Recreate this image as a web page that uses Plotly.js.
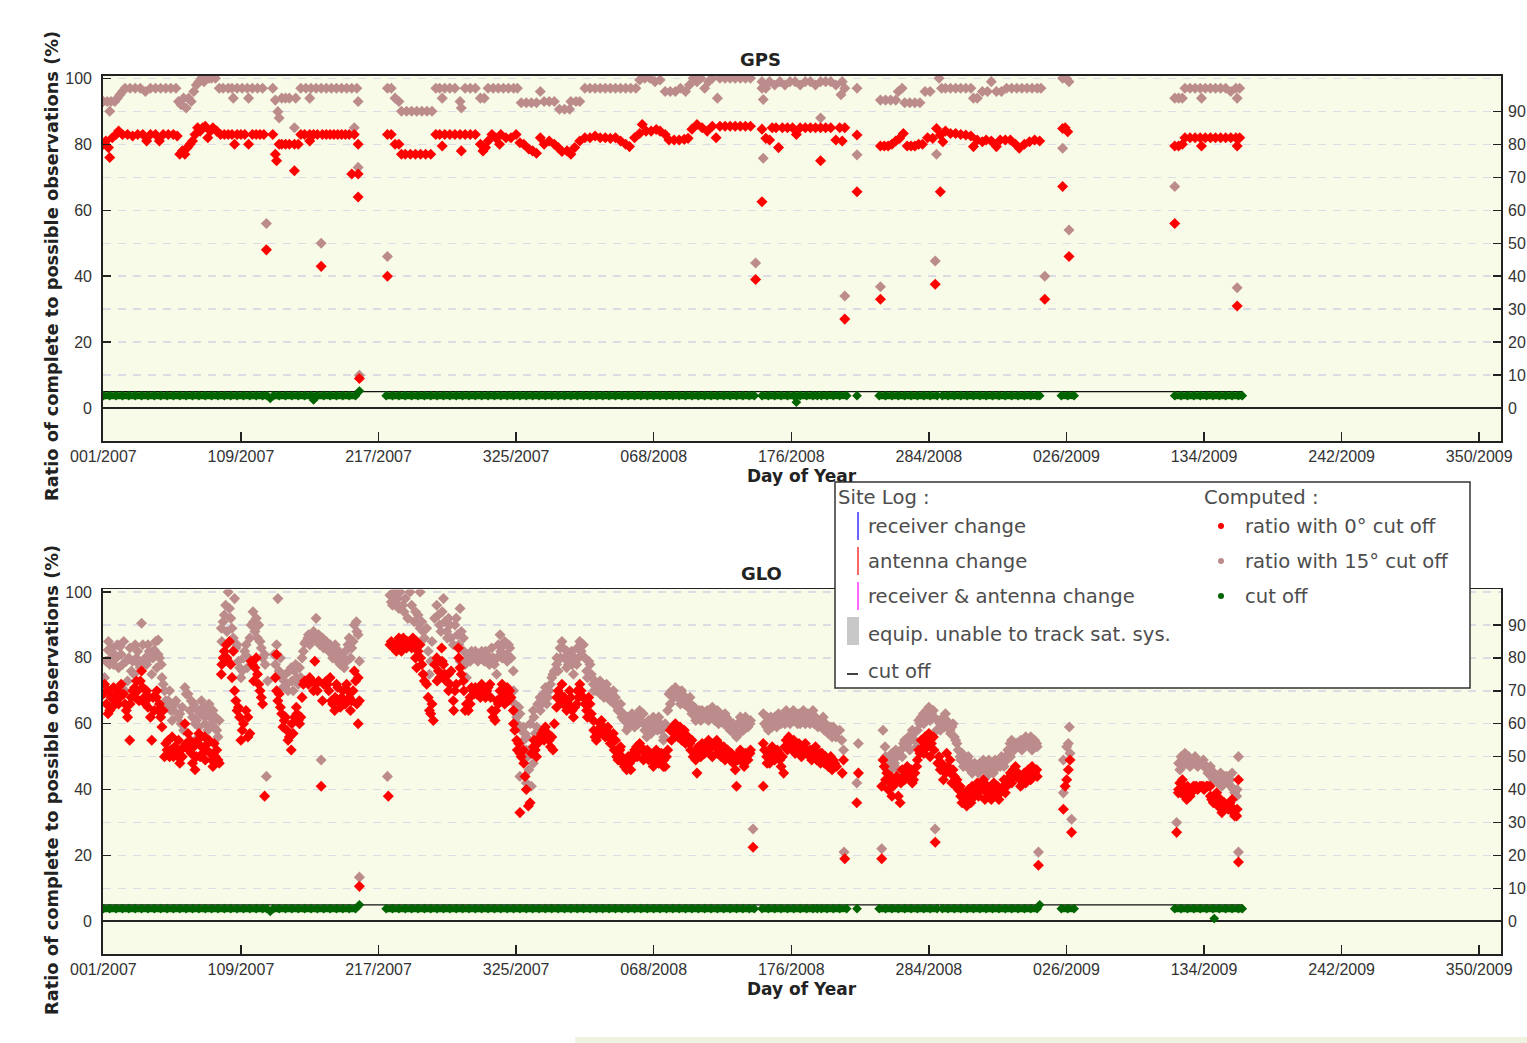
<!DOCTYPE html>
<html><head><meta charset="utf-8">
<script src="https://cdn.plot.ly/plotly-3.0.1.min.js"></script>
<style>html,body{margin:0;padding:0;background:#fff;}#chart{width:1527px;height:1043px;}</style>
</head><body><div id="chart"></div>
<script>
// ---------- DATA (x = day index, 0 = 001/2007) ----------
const tickDays = [0,108,216,324,432,540,648,756,864,972,1080];
const tickLabels = ['001/2007','109/2007','217/2007','325/2007','068/2008','176/2008','284/2008','026/2009','134/2009','242/2009','350/2009'];
const leftTicks = [0,20,40,60,80,100];
const rightTicks = [0,10,20,30,40,50,60,70,80,90];
const cutLineDays = [0, 894];
const cutLineVals = [5, 5];

// GPS, ratio with 0 deg cut off [day, %]
const gpsRed = [[0,80],[2,81],[4,79],[5,76],[7,82],[10,83],[12,84],[15,83],[19,83],[23,82.5],[27,83],[31,83],[34,81],[37,83],[41,83],[44,81],[47,83],[51,83],[55,83],[58,82.5],[60,77],[62,78],[64,77],[66,79],[68,80],[70,81],[72,83],[74,85],[76,84],[78,85],[80,85.5],[82,82],[84,84],[86,85],[89,84],[92,83],[95,83],[98,83],[101,83],[103,80],[105,83],[108,83],[111,83],[114,80],[117,83],[120,83],[123,83],[126,83],[128,48],[133,83],[135,77],[136,75],[138,80],[140,80],[143,80],[146,80],[150,72],[150,80],[153,80],[155,83],[158,83],[162,81],[162,83],[165,83],[168,83],[171,43],[172,83],[175,83],[178,83],[181,83],[184,83],[187,83],[190,83],[193,83],[195,71],[197,83],[200,71],[200,80],[200,64],[201,9],[223,40],[223,83],[226,83],[229,80],[232,80],[234,77],[237,77],[241,77],[245,77],[249,77],[253,77],[257,77],[261,83],[264,83],[266,79.5],[268,83],[272,83],[276,83],[280,83],[281,78],[284,83],[288,83],[292,83],[296,80],[298,78],[300,79],[302,81],[305,83],[308,82],[311,80],[312,83],[316,82],[320,82],[324,83],[327,80.5],[330,80],[334,78.6],[337,78],[340,77.3],[343,82],[346,80],[350,81],[354,80],[357,79],[360,77.8],[364,78],[367,77],[370,79],[374,81],[378,82],[382,82],[386,82.5],[390,82],[394,82],[398,81.8],[402,82],[406,81],[410,80],[413,79.3],[417,82],[421,83.3],[423,86],[426,84],[430,84],[434,84.5],[437,84],[441,83],[444,81.3],[448,81.3],[452,81.3],[456,81.5],[459,81.8],[462,84.6],[466,86],[470,85],[474,84],[478,85.5],[481,82],[484,85.5],[488,85.5],[492,85.5],[496,85.5],[500,85.5],[504,85.5],[508,85.5],[512,39],[517,84.6],[517,62.6],[520,81.8],[523,81.3],[525,85],[528,85],[530,79],[533,85],[537,85],[541,85],[544,83],[547,85],[551,85],[555,85],[559,85],[563,75],[563,85],[567,85],[571,85],[575,81.3],[578,85],[580,81],[582,85],[582,27],[591.6,82.8],[591.6,65.6],[610,33],[610,79.5],[613,79.5],[616,79.5],[619,80],[622,81],[625,81.8],[628,83.3],[631,79.5],[634,79.5],[637,79.5],[640,80],[643,80],[647,82],[651,81.8],[653,37.6],[654,84.8],[657,82.8],[657,65.6],[659,80.8],[661,84],[665,83.3],[669,83.3],[673,83],[677,82.8],[681,82.5],[683,79.3],[686,81.3],[690,80.8],[693,81.3],[697,81],[701,79.3],[704,81.3],[708,81.3],[712,81.3],[716,80],[719,78.8],[723,80],[727,80.8],[731,81.3],[735,81],[739,33],[753,84.8],[753,67.2],[755,85],[757,83.8],[758,46],[841,79.5],[841,56],[844,79.5],[847,80],[849,82],[853,82],[857,82],[861,82],[862,79.5],[865,82],[869,82],[873,82],[877,82],[881,82],[885,82],[889,82],[890,79.5],[890,31],[892,82]];

// GPS, ratio with 15 deg cut off [day, %]
const gpsRose = [[0,93],[3,93],[5,90],[6,93],[9,93],[11,94],[13,95],[15,96],[17,97],[21,97],[25,97],[29,97],[33,96],[37,97],[41,97],[45,97],[49,97],[53,97],[57,97],[59,93],[61,92],[63,94],[65,91],[67,94],[69,93],[71,96],[73,98],[75,99],[77,100],[79,99],[81,100],[83,100],[85,100],[88,100],[91,97],[94,97],[98,97],[101,97],[102,94],[105,97],[109,97],[113,97],[114,94],[117,97],[121,97],[125,97],[128,56],[133,97],[135,93.4],[137,89.9],[138,88],[140,94],[143,94],[146,94],[150,85],[151,94],[155,97],[159,97],[162,94],[163,97],[167,97],[171,50],[171,97],[175,97],[179,97],[183,97],[187,97],[191,97],[195,97],[197,85],[199,97],[200,93],[200,73],[201,10],[223,46],[223,97],[226,97],[229,94],[232,93],[234,90],[238,90],[242,90],[246,90],[250,90],[254,90],[258,90],[261,97],[264,97],[266,94],[268,97],[272,97],[276,97],[280,93],[281,91],[284,97],[288,97],[292,97],[296,94],[299,94],[302,97],[306,97],[310,97],[314,97],[318,97],[322,97],[325,97],[328,92.6],[332,92.6],[336,92.6],[340,92.6],[343,96],[346,93],[350,93],[354,93],[358,90.6],[362,90.6],[366,90.6],[367,93],[371,93],[374,93],[378,97],[382,97],[386,97],[390,97],[394,97],[398,97],[402,97],[406,97],[410,97],[414,97],[418,97],[421,99.5],[425,100],[429,100],[433,99],[437,99.5],[441,96],[445,96],[449,96],[453,97],[457,96],[460,98],[463,100],[466,99],[469,100],[472,97],[475,99],[478,100],[482,94],[484,100],[488,100],[492,100],[496,100],[500,100],[504,100],[508,100],[512,44],[517,99],[517,97],[518,93.6],[518,75.8],[520,97],[523,99],[527,98],[531,99],[535,98],[539,99],[543,99],[547,98],[551,99],[555,99],[559,98],[563,88],[563,99],[567,99],[571,99],[575,98],[579,95],[580,99],[582,97],[582,34],[591.6,97],[591.6,76.8],[610,36.8],[610,93.4],[614,93.4],[618,93.4],[622,93.4],[624,96],[627,97],[629,92.6],[633,92.6],[637,92.6],[641,92.6],[645,96],[649,96],[653,44.6],[654,77],[656,100],[658,97],[661,97],[665,97],[669,97],[673,97],[677,97],[681,97],[683,94],[686,94],[690,96],[694,96],[697,99],[701,96],[705,96],[709,97],[713,97],[717,97],[721,97],[725,97],[729,97],[733,97],[736,97],[739,40],[753,78.8],[753,100],[756,100],[758,99],[758,54],[841,67.2],[841,94],[844,94],[847,94],[849,97],[853,97],[857,97],[861,97],[862,94],[865,97],[869,97],[873,97],[877,97],[881,97],[885,96],[889,97],[890,94],[890,36.5],[892,97]];

// GPS computed cut off [day, %]  (null = no data, breaks the band)
const gpsCut = [[0,3.8],[5,3.8],[10,3.8],[15,3.8],[20,3.8],[25,3.8],[30,3.8],[35,3.8],[40,3.8],[45,3.8],[50,3.8],[55,3.8],[60,3.8],[65,3.8],[70,3.8],[75,3.8],[80,3.8],[85,3.8],[90,3.8],[95,3.8],[100,3.8],[105,3.8],[110,3.8],[115,3.8],[120,3.8],[125,3.8],[128.5,3.8],[130,null],[131,3.0],[132,null],[133.5,3.8],[138,3.8],[143,3.8],[148,3.8],[153,3.8],[158,3.8],[163,3.8],[165,2.5],[168,3.8],[173,3.8],[178,3.8],[183,3.8],[188,3.8],[193,3.8],[198,3.8],[201,5.2],[210,null],[222,3.8],[227,3.8],[232,3.8],[237,3.8],[242,3.8],[247,3.8],[252,3.8],[257,3.8],[262,3.8],[267,3.8],[272,3.8],[277,3.8],[282,3.8],[287,3.8],[292,3.8],[297,3.8],[302,3.8],[307,3.8],[312,3.8],[317,3.8],[322,3.8],[327,3.8],[332,3.8],[337,3.8],[342,3.8],[347,3.8],[352,3.8],[357,3.8],[362,3.8],[367,3.8],[372,3.8],[377,3.8],[382,3.8],[387,3.8],[392,3.8],[397,3.8],[402,3.8],[407,3.8],[412,3.8],[417,3.8],[422,3.8],[427,3.8],[432,3.8],[437,3.8],[442,3.8],[447,3.8],[452,3.8],[457,3.8],[462,3.8],[467,3.8],[472,3.8],[477,3.8],[482,3.8],[487,3.8],[492,3.8],[497,3.8],[502,3.8],[507,3.8],[511,3.8],[514,null],[517,3.8],[522,3.8],[527,3.8],[532,3.8],[537,3.8],[542,3.8],[544,1.8],[547,3.8],[552,3.8],[557,3.8],[560.5,3.8],[562,null],[563.5,3.8],[568,3.8],[573,3.8],[578,3.8],[583.5,3.8],[587,null],[591.6,3.8],[600,null],[609,3.8],[614,3.8],[619,3.8],[624,3.8],[629,3.8],[634,3.8],[639,3.8],[644,3.8],[649,3.8],[654.5,3.8],[656.5,null],[658.5,3.8],[663,3.8],[668,3.8],[673,3.8],[678,3.8],[683,3.8],[688,3.8],[693,3.8],[698,3.8],[703,3.8],[708,3.8],[713,3.8],[718,3.8],[723,3.8],[728,3.8],[733,3.8],[735,3.8],[745,null],[752,3.8],[757,3.8],[762,3.8],[800,null],[841,3.8],[846,3.8],[851,3.8],[856,3.8],[861,3.8],[866,3.8],[871,3.8],[876,3.8],[881,3.8],[886,3.8],[891,3.8],[894,3.8]];

// GLO, ratio with 0 deg cut off [day, %]
const gloRed = [[0,69],[2.4,66],[3.7,63],[5,64],[6,68],[9,67],[11.5,70],[13,68],[14,72],[17,66],[19,62],[20.7,55],[22,68],[24.6,71],[26,73],[27,70],[30,76],[32,68],[34,70],[35,65],[38,55],[39,68],[41.6,68],[43,64],[44,66],[47,64],[48,50],[50,52],[51,55],[53,52],[55,50],[56,53],[58.6,50],[60,48],[61,52],[63,53],[64,60],[66.5,57],[68,55],[69,51],[72,46],[74,55],[76,50],[77,53],[79.5,56],[81,52],[82,54],[85,49],[87,54],[89,52],[90,49],[91,48],[92.6,75],[94,80],[96.5,84],[98,79],[100,78],[102,82],[103,70],[104,67],[106,65],[107,62],[108,55],[110,60],[113.5,62],[113.5,56],[116,79],[119,77],[121,75],[124,68],[126.6,38],[136,70],[136,81],[137,67],[140,63],[142,61],[144,58],[145,55],[147.5,52],[150,62],[151.5,65],[153,61],[155,62],[158,73],[160.6,73],[163,73],[166,79],[167,72],[171,41],[172,67],[174,72],[176,72],[179,67],[181.6,64],[184,71],[187,68],[189,66],[192,70],[195,67],[197,76],[200,74],[201,67],[200,60],[201,10.6],[223.7,38],[225,84],[227.7,83],[230,82],[233,84],[235.5,86],[238,83],[240.7,84],[243,86],[246,85],[246,77],[248.6,84],[251,75],[253.8,72],[256,64],[259,61],[261.7,80],[263,76],[264,74],[265.6,83],[268,75],[270.8,75],[272,72],[274.7,67],[277,72],[278.7,83],[280,77],[282.6,73],[284,64],[286.5,64],[287.8,68],[290.5,70],[293,69],[295.7,70],[298,69],[301,70],[303.5,72],[306,62],[307.5,61],[310,66],[311.4,70],[314,70],[316.6,68],[319,70],[321.8,64],[324.5,55],[327,51],[327,33],[329.7,52],[332,40],[333.6,35],[337.5,53],[340,50],[342.8,56],[345.4,58],[348,56],[349,57],[353,52],[355.8,65],[358.5,69],[361,66],[363.7,64],[366,70],[369,62],[371.6,66],[374,72],[376.8,68],[379.4,64],[382,66],[384.6,61],[387,55],[389.9,60],[392.5,59],[395,58],[397.7,56],[400.3,57],[403,50],[405.5,52],[408,48],[410.8,46],[413,48],[416,51],[418.6,53],[421,54],[423.8,52],[426.5,50],[429,51],[431.7,47],[434,52],[437,50],[439.6,47],[442,50],[445,58],[447,59],[450,58],[452.7,59],[455,57],[458,55],[460.5,54],[463,50],[466,45],[468,52],[471,53],[473.6,54],[476,51],[479,54],[481.5,55],[484,52],[486.7,52],[489,51],[492,49],[494.5,48],[497,41],[500,52],[502.4,48],[505,50],[507.6,51],[510,22.5],[518,54],[518,41],[520.7,50],[523,48],[526,51],[528.6,50],[531,49],[534,45],[536,55],[539,54],[541.6,52],[544,54],[547,51],[549.5,53],[552,52],[554.7,50],[557,52],[560,49],[562.6,51],[565,50],[568,49],[570.4,48],[573,49],[575.6,47],[580,45],[581,49],[582,19],[591.4,36],[592.7,45],[611,41],[611,19],[612,49],[615,45],[617.5,42],[620,41],[622.8,44],[625.4,36],[628,44],[630.6,45],[633,44],[636,43],[638.5,47],[641,51],[643.7,53],[646,54],[649,55],[649,50],[651.5,56],[653,24],[656,50],[659.4,43],[662,51],[664.6,49],[667,46],[670,43],[672.5,41],[675,39],[677.7,35],[680.3,37],[683,39],[685.6,40],[688,41],[690.8,43],[693.4,39],[696,38],[698.6,40],[701,38],[704,39],[706.5,41],[709,41],[711.7,44],[714.3,46],[717,44],[719.5,43],[722,42],[725,44],[727.4,45],[730,46],[732.6,46],[734,17],[753.6,34],[755,41],[756.2,43],[757.5,46],[758.8,49],[760,27],[842.5,27],[843.8,39],[845,42],[848,41],[850.4,37],[853,38],[855.6,41],[858,41],[860.8,41],[863.4,41],[866,41],[868.7,41],[871.3,36],[873.9,39],[876.5,36],[879,34],[881.8,35],[884.4,36],[887,33],[889.6,32],[891,43],[891,18]];
// GLO 0 deg, further daily readings inside the dense clouds [day, %]
const gloRedMore = [[1,72],[4,70],[7,65],[8,71],[10,69],[12,66],[16,69],[18,64],[21,66],[23,70],[25,68],[28,67],[29,73],[31,71],[33,66],[36,68],[37,62],[40,64],[42,70],[45,62],[46,59],[49,54],[52,50],[54,56],[57,51],[59,55],[62,50],[65,54],[67,52],[70,48],[71,53],[73,50],[75,57],[78,51],[80,49],[83,55],[84,51],[86,47],[88,50],[93,78],[95,82],[97,80],[99,85],[101,74],[105,64],[109,58],[112,64],[115,57],[117,78],[118,73],[120,80],[122,72],[123,70],[125,66],[135,74],[138,69],[139,65],[141,59],[143,62],[146,56],[148,60],[149,57],[152,63],[154,60],[156,68],[157,72],[159,73],[161,72],[162,74],[164,73],[165,70],[168,70],[169,73],[173,72],[175,73],[177,70],[178,74],[180,66],[182,68],[183,72],[185,67],[186,65],[188,70],[190,66],[191,72],[193,68],[194,64],[196,70],[198,73],[199,66],[226,85],[229,84],[231,83],[232,86],[234,82],[237,85],[239,85],[242,83],[244,84],[245,80],[247,82],[249,80],[250,78],[252,73],[255,68],[257,63],[258,66],[260,78],[262,73],[266,79],[267,78],[269,73],[271,70],[273,76],[275,64],[276,70],[279,80],[281,75],[283,70],[285,66],[288,66],[289,71],[291,69],[292,71],[294,70],[296,68],[297,72],[299,70],[300,68],[302,71],[304,68],[305,64],[308,64],[309,67],[312,68],[313,72],[315,66],[317,71],[318,67],[320,68],[322,60],[323,58],[325,52],[326,54],[328,50],[330,48],[331,44],[335,36],[336,51],[338,55],[339,52],[341,54],[344,57],[346,55],[347,59],[350,55],[351,53],[352,56],[354,60],[356,68],[357,70],[359,67],[360,72],[362,68],[365,66],[367,68],[368,64],[370,65],[372,70],[373,68],[375,70],[378,66],[380,62],[381,68],[383,63],[385,58],[386,56],[388,58],[390,57],[391,61],[393,57],[394,56],[396,59],[398,54],[399,55],[401,52],[402,55],[404,49],[406,53],[407,50],[409,47],[411,49],[412,50],[414,46],[415,49],[417,52],[419,50],[420,52],[422,53],[424,49],[425,51],[427,52],[428,49],[430,50],[432,51],[433,48],[435,50],[436,48],[438,51],[440,49],[441,47],[443,52],[446,55],[448,57],[449,60],[451,56],[453,57],[454,55],[456,58],[457,54],[459,56],[461,52],[462,55],[464,51],[465,49],[467,53],[469,50],[470,54],[472,51],[474,52],[475,55],[477,53],[478,50],[480,53],[482,51],[483,54],[485,50],[487,53],[488,49],[490,52],[491,50],[493,51],[495,50],[496,46],[498,49],[499,51],[501,50],[503,47],[504,51],[506,49],[508,52],[519,52],[521,48],[522,51],[524,50],[525,53],[527,49],[529,52],[530,51],[532,47],[533,50],[535,53],[537,52],[538,56],[540,53],[542,55],[543,51],[545,52],[546,54],[548,50],[550,51],[551,54],[553,51],[555,52],[556,49],[558,51],[559,53],[561,50],[563,48],[564,51],[566,48],[567,50],[569,47],[571,50],[572,46],[574,48],[613,47],[614,43],[616,40],[618,44],[619,38],[621,42],[624,38],[626,42],[627,46],[629,43],[631,47],[632,44],[634,46],[635,42],[637,45],[639,49],[640,52],[642,55],[644,51],[645,56],[647,53],[648,57],[650,54],[652,52],[655,48],[657,46],[658,48],[660,47],[661,45],[663,47],[665,45],[666,42],[668,44],[669,41],[671,40],[673,38],[674,36],[676,37],[678,38],[679,40],[681,36],[682,41],[684,38],[686,42],[687,38],[689,40],[691,41],[692,37],[694,41],[695,40],[697,37],[699,42],[700,40],[702,41],[703,37],[705,40],[707,43],[708,39],[710,42],[712,45],[713,42],[715,44],[716,47],[718,45],[720,41],[721,44],[723,45],[724,42],[726,46],[728,43],[729,47],[731,45],[733,44],[844,40],[846,39],[847,43],[849,38],[851,41],[852,40],[854,39],[857,41],[859,40],[862,41],[864,40],[867,41],[869,38],[870,37],[872,38],[875,35],[877,37],[878,33],[880,36],[883,34],[885,35],[886,37],[888,32],[890,34]];

// GLO, ratio with 15 deg cut off [day, %]
const gloRose = [[1,74],[3.7,82.4],[5,78],[6,80],[9,81],[11,84],[13,83.4],[15,78],[17,70],[18,79],[19,73],[20,80],[22,76],[25,84],[27,82],[28,78],[30,90.5],[32,79],[33,80],[35,84],[37,80],[38,75],[40,82.4],[42,77],[43,81],[43,85.4],[45.5,78],[48,70],[51,67],[53,64],[56,66],[58.6,62],[61,60],[64,71],[66.5,69],[69,67],[72,60],[72,55],[74,64],[77,67],[79.5,62],[83,66],[86,64],[87,59],[90,56],[91,61],[92.6,89],[95,93],[98,100],[100,92],[102,86],[103,98],[104,83],[106,79],[108,74],[111,82],[113,77],[116,90],[117.5,94],[120,92],[122,90],[124,83],[126.6,81],[128,44],[129,73],[134,81],[137,98],[138,76],[142,73],[145,70],[147.5,77],[150,76],[153,72],[155,74],[158,84.4],[160.6,86],[163,87],[166,86],[167,92],[170,84],[171,49],[174,85],[176,84],[179,83],[181.6,82],[184,79],[187,81],[189,77],[192,84],[195,83],[197,90],[198.6,91],[200,87],[201,79],[201,13.4],[223,44],[225,99],[227,96],[230,99],[235,96],[240.7,100],[246,91],[248.6,100],[248.6,89],[253.8,89],[256,75],[261.7,96],[264,90],[267,98],[269.5,88],[272,90],[274.7,84],[277,92],[280,95],[280,79],[282.6,86],[285,74],[287.8,81],[290.5,81],[293,80],[295.7,81],[298,80],[301,81],[304.8,83],[308.7,75],[311.4,87],[314,84],[316.6,81],[319,83],[321.8,76],[324.5,62],[327,63],[327,52],[327,44],[329.7,59],[332,56],[332,52],[332,42],[336,41],[337.5,64],[337.5,48],[340.2,59],[342.8,68],[345.4,69],[348,66],[350,70],[353,75],[355.8,78],[358.5,83],[361,83],[363.7,77],[367.6,82],[369,75],[371.6,78],[374,85],[376.8,84],[379.4,76],[382,78],[384.6,72],[387,70],[389.9,73],[392.5,70],[395,72],[397.7,68],[400.3,70],[403,66],[405.5,64],[408,63],[410.8,58],[413,61],[416,60],[418.6,61],[421,64],[423.8,63],[426.5,56],[429,58],[431.7,62],[434,61],[437,60],[439.6,55],[442,59],[444,69],[447,69],[450,70],[452.7,69],[455,68],[458,67],[460.5,68],[463,64],[466,62],[468,64],[471,63],[473.6,62],[476,64],[479,63],[481.5,62],[484,63],[486.7,61],[489,62],[492,58],[494.5,60],[497,56],[500,62],[502.4,58],[505,61],[507.6,60],[510,28],[518,63],[520.7,59],[523,60],[526,61],[528.6,59],[531,62],[534,61],[536,64],[539,60],[541.6,64],[544,62],[547,60],[549.5,64],[552,62],[554.7,60],[557,64],[560,61],[562.6,60],[565,62],[568,59],[570.4,58],[573,59],[575,56],[578,58],[579.6,55],[581,52],[581.4,21],[591.4,42],[592.6,54],[611,22],[612,58],[613.6,53],[615,46],[617.5,49],[618.8,46],[620,49],[622,52],[625.4,43],[628,54],[630.6,55],[633,52],[636,57],[638.5,53],[641,60],[643.7,63],[646,64],[649,61],[651.5,64],[652.9,28],[654,58],[656.8,60],[659.4,62],[662,61],[664.6,58],[667,60],[670,54],[672.5,50],[675,47],[677.7,49],[680.3,46],[683,47],[685.6,46],[688,48],[690.8,49],[693.4,44],[696,46],[698.6,45],[701,48],[704,47],[706.5,48],[709,49],[711.7,54],[714.3,53],[717,54],[719.5,54],[722,53],[725,55],[727.4,53],[730,55],[732.6,54],[734,21],[753.6,49],[753.6,39],[756.2,53],[757.5,54],[758.3,59],[758.8,51],[760,31],[842.5,30],[845,46],[848,50],[850.4,48],[853,47],[855.6,49],[858,49],[860.8,48],[863.4,49],[866,47],[868.7,46],[871.3,43],[873.9,44],[876.5,43],[879,42],[881.8,44],[884.4,43],[887,40],[889.6,38],[891,50],[891,21]];
// GLO 15 deg, further daily readings inside the dense clouds [day, %]
const gloRoseMore = [[2,79],[4,85],[7,83],[8,78],[10,80],[12,77],[14,81],[16,85],[21,83],[23,79],[24,75],[26,80],[29,77],[31,84],[34,78],[36,82],[39,80],[41,85],[44,80],[46,74],[47,72],[49,67],[50,65],[52,70],[54,61],[55,64],[57,67],[60,63],[62,65],[63,58],[65,69],[68,64],[70,62],[71,66],[73,61],[75,59],[76,63],[78,65],[80,60],[81,64],[82,58],[84,62],[85,60],[88,62],[89,58],[93,85],[94,91],[96,96],[97,88],[99,95],[101,89],[105,84],[107,77],[109,76],[110,80],[112,84],[114,80],[115,86],[118,91],[119,88],[121,86],[123,85],[125,80],[127,78],[135,78],[136,84],[139,80],[140,74],[141,71],[143,75],[144,72],[146,76],[148,73],[149,70],[151,78],[152,74],[154,77],[156,80],[157,82],[159,85],[161,87],[162,84],[164,86],[165,88],[168,85],[169,87],[172,86],[173,83],[175,85],[177,82],[178,84],[180,80],[182,84],[183,80],[185,82],[186,78],[188,80],[190,82],[191,79],[193,86],[194,80],[196,85],[199,88],[226,97],[228,100],[229,97],[231,98],[232,95],[233,100],[236,94],[237,98],[239,92],[242,96],[244,91],[245,94],[247,93],[250,91],[251,88],[252,86],[255,82],[257,79],[258,85],[260,92],[263,93],[265,88],[266,94],[268,91],[270,86],[271,92],[273,86],[276,90],[278,87],[279,84],[281,88],[283,82],[284,78],[286,80],[288,79],[289,82],[291,80],[292,82],[294,79],[296,80],[297,82],[299,79],[300,82],[302,80],[303,78],[306,80],[307,78],[309,80],[310,84],[312,82],[313,80],[315,85],[317,79],[318,84],[320,80],[322,70],[323,66],[325,60],[326,65],[328,58],[330,55],[331,57],[333,50],[334,46],[335,60],[338,62],[339,57],[341,66],[343,64],[344,66],[346,68],[347,71],[349,68],[351,72],[352,74],[354,76],[356,80],[357,76],[359,80],[360,85],[362,80],[364,82],[365,78],[366,80],[368,78],[370,80],[372,83],[373,80],[375,82],[378,80],[380,74],[381,79],[383,75],[385,70],[386,73],[388,71],[390,69],[391,72],[393,68],[394,71],[396,70],[398,67],[399,69],[401,66],[402,68],[404,64],[406,66],[407,62],[409,61],[411,62],[412,59],[414,62],[415,63],[417,59],[419,62],[420,60],[422,61],[424,60],[425,58],[427,59],[428,61],[430,57],[432,59],[433,60],[435,58],[436,62],[438,58],[440,56],[441,60],[443,64],[445,66],[446,70],[448,68],[449,71],[451,68],[453,66],[454,70],[456,66],[457,68],[459,65],[461,66],[462,63],[464,65],[465,61],[467,63],[469,61],[470,64],[472,62],[474,64],[475,61],[477,62],[478,65],[480,61],[482,64],[483,60],[485,62],[487,60],[488,63],[490,59],[491,61],[493,60],[495,57],[496,59],[498,60],[499,57],[501,60],[503,59],[504,62],[506,59],[508,61],[519,60],[521,62],[522,58],[524,62],[525,59],[527,62],[529,60],[530,63],[532,60],[533,62],[535,60],[537,62],[538,61],[540,63],[542,61],[543,63],[545,60],[546,63],[548,61],[550,62],[551,60],[553,63],[555,61],[556,63],[558,60],[559,62],[561,59],[563,61],[564,60],[566,58],[567,60],[569,57],[571,59],[572,56],[574,57],[614,50],[616,47],[619,51],[621,48],[623,50],[624,46],[626,52],[627,50],[629,55],[631,53],[632,56],[634,55],[635,58],[637,55],[639,58],[640,61],[642,62],[644,60],[645,63],[647,62],[648,65],[650,63],[652,62],[655,61],[657,58],[658,61],[660,59],[661,63],[663,59],[665,57],[666,59],[668,56],[669,55],[671,52],[673,49],[674,51],[676,48],[678,47],[679,50],[681,48],[682,45],[684,48],[686,47],[687,45],[689,47],[691,48],[692,46],[694,47],[695,49],[697,47],[699,46],[700,49],[702,47],[703,49],[705,50],[707,47],[708,50],[710,52],[712,50],[713,55],[715,52],[716,54],[718,53],[720,55],[721,52],[723,54],[724,56],[726,54],[728,56],[729,52],[731,55],[733,53],[844,48],[846,50],[847,47],[849,51],[851,49],[852,50],[854,48],[857,50],[859,47],[862,48],[864,47],[867,45],[869,47],[870,44],[872,45],[875,42],[877,45],[878,41],[880,44],[883,42],[885,41],[886,45],[888,39],[890,40]];

// GLO computed cut off [day, %]  (null = no data, breaks the band)
const gloCut = [[0,3.8],[5,3.8],[10,3.8],[15,3.8],[20,3.8],[25,3.8],[30,3.8],[35,3.8],[40,3.8],[45,3.8],[50,3.8],[55,3.8],[60,3.8],[65,3.8],[70,3.8],[75,3.8],[80,3.8],[85,3.8],[90,3.8],[95,3.8],[100,3.8],[105,3.8],[110,3.8],[115,3.8],[120,3.8],[125,3.8],[128.5,3.8],[130,null],[131,3.0],[132,null],[133.5,3.8],[138,3.8],[143,3.8],[148,3.8],[153,3.8],[158,3.8],[163,3.8],[168,3.8],[173,3.8],[178,3.8],[183,3.8],[188,3.8],[193,3.8],[198,3.8],[201,5.0],[210,null],[222,3.8],[227,3.8],[232,3.8],[237,3.8],[242,3.8],[247,3.8],[252,3.8],[257,3.8],[262,3.8],[267,3.8],[272,3.8],[277,3.8],[282,3.8],[287,3.8],[292,3.8],[297,3.8],[302,3.8],[307,3.8],[312,3.8],[317,3.8],[322,3.8],[327,3.8],[332,3.8],[337,3.8],[342,3.8],[347,3.8],[352,3.8],[357,3.8],[362,3.8],[367,3.8],[372,3.8],[377,3.8],[382,3.8],[387,3.8],[392,3.8],[397,3.8],[402,3.8],[407,3.8],[412,3.8],[417,3.8],[422,3.8],[427,3.8],[432,3.8],[437,3.8],[442,3.8],[447,3.8],[452,3.8],[457,3.8],[462,3.8],[467,3.8],[472,3.8],[477,3.8],[482,3.8],[487,3.8],[492,3.8],[497,3.8],[502,3.8],[507,3.8],[511,3.8],[514,null],[517,3.8],[522,3.8],[527,3.8],[532,3.8],[537,3.8],[542,3.8],[547,3.8],[552,3.8],[557,3.8],[560.5,3.8],[562,null],[563.5,3.8],[568,3.8],[573,3.8],[578,3.8],[583.5,3.8],[587,null],[591.6,3.8],[600,null],[609,3.8],[614,3.8],[619,3.8],[624,3.8],[629,3.8],[634,3.8],[639,3.8],[644,3.8],[649,3.8],[654.5,3.8],[656.5,null],[658.5,3.8],[663,3.8],[668,3.8],[673,3.8],[678,3.8],[683,3.8],[688,3.8],[693,3.8],[698,3.8],[703,3.8],[708,3.8],[713,3.8],[718,3.8],[723,3.8],[728,3.8],[733,3.8],[735,5.0],[745,null],[752,3.8],[757,3.8],[762,3.8],[800,null],[841,3.8],[846,3.8],[851,3.8],[856,3.8],[861,3.8],[866,3.8],[871,3.8],[872,0.8],[876,3.8],[881,3.8],[886,3.8],[891,3.8],[894,3.8]];

// ---------- STYLE / LAYOUT ----------
const W = 1527, H = 1043;
const PX = v => v / W, PY = v => 1 - v / H;
const RED = '#ff0000', ROSE = '#bc8c8c', GREEN = '#006400';
const TICKFONT = {family:'Liberation Sans, Arial, sans-serif', size:16, color:'#333'};
const TITLEFONT = {family:'DejaVu Sans, Verdana, sans-serif', size:17, color:'#222'};
const LEGFONT = {family:'DejaVu Sans, Verdana, sans-serif', size:19.6, color:'#4d4d4d'};
const MSIZE = 8.5;

function pts(pairs, color, xa, ya, size) {
  const p = pairs.filter(q => q[1] !== null);
  return {type:'scatter', mode:'markers', x:p.map(q=>q[0]), y:p.map(q=>q[1]), xaxis:xa, yaxis:ya,
    marker:{symbol:'diamond', size:size || MSIZE, color:color, line:{width:0}}, hoverinfo:'skip', showlegend:false};
}
// solid band joining the regular cut-off values (off-band values shown only as markers)
function band(pairs, color, xa, ya) {
  const p = pairs.filter(q => q[1] === null || Math.abs(q[1] - 3.8) < 0.3);
  return {type:'scatter', mode:'lines', x:p.map(q=>q[0]), y:p.map(q=>q[1]), xaxis:xa, yaxis:ya, connectgaps:false,
    line:{color:color, width:7}, hoverinfo:'skip', showlegend:false};
}
function cutLine(xa, ya) {
  return {type:'scatter', mode:'lines', x:cutLineDays, y:cutLineVals, xaxis:xa, yaxis:ya,
    line:{color:'#111', width:1.3}, hoverinfo:'skip', showlegend:false};
}
const dummy = (xa, ya) => ({type:'scatter', mode:'markers', x:[], y:[], xaxis:xa, yaxis:ya, hoverinfo:'skip', showlegend:false});

const data = [
  cutLine('x','y'), band(gpsCut, GREEN, 'x','y'), pts(gpsCut, GREEN, 'x','y', 7.5), pts(gpsRose, ROSE, 'x','y'), pts(gpsRed, RED, 'x','y'),
  cutLine('x2','y2'), band(gloCut, GREEN, 'x2','y2'), pts(gloCut, GREEN, 'x2','y2', 7.5),
  pts(gloRose.concat(gloRoseMore), ROSE, 'x2','y2'), pts(gloRed.concat(gloRedMore), RED, 'x2','y2'),
  dummy('x','y3'), dummy('x2','y4')
];

const xRange = [-0.5, 1097.1];
const yRange = [-9.95, 100.8];
function xAxis(anchor) {
  return {domain:[102.7/W, 1501/W], range:xRange, anchor:anchor, tickmode:'array', tickvals:tickDays, ticktext:tickLabels,
    ticks:'inside', ticklen:9, tickwidth:1.5, tickcolor:'#222', showline:true, linecolor:'#222', linewidth:1.5, mirror:true,
    showgrid:false, zeroline:false, tickfont:TICKFONT, automargin:false, fixedrange:true};
}
function yLeft(dom, anchor) {
  return {domain:dom, range:yRange, anchor:anchor, tickmode:'array', tickvals:leftTicks, ticks:'inside', ticklen:8, tickwidth:1.5,
    tickcolor:'#222', showline:true, linecolor:'#222', linewidth:1.5, mirror:true, showgrid:true, gridcolor:'#dcdde4',
    gridwidth:1.5, griddash:'8px,7px', zeroline:true, zerolinecolor:'#222', zerolinewidth:1.5, tickfont:TICKFONT,
    ticklabelstandoff:6, automargin:false, fixedrange:true};
}
function yRight(over, anchor) {
  return {overlaying:over, side:'right', anchor:anchor, range:yRange, tickmode:'array', tickvals:rightTicks, ticks:'inside',
    ticklen:8, tickwidth:1.5, tickcolor:'#222', showline:false, showgrid:true, gridcolor:'#dcdde4', gridwidth:1.5,
    griddash:'8px,7px', zeroline:false, tickfont:TICKFONT, ticklabelstandoff:6, automargin:false, fixedrange:true};
}

const topDom = [1 - 441/H, 1 - 75.7/H];
const botDom = [1 - 954/H, 1 - 589.4/H];

function ann(text, x, y, font, opts) {
  return Object.assign({text:text, x:PX(x), y:PY(y), xref:'paper', yref:'paper', showarrow:false,
    xanchor:'center', yanchor:'middle', font:font}, opts || {});
}
const YTITLE = Object.assign({}, TITLEFONT, {size:17.8});
const annotations = [
  ann('<b>GPS</b>', 760, 60, Object.assign({}, TITLEFONT, {size:18})),
  ann('<b>GLO</b>', 761, 573, Object.assign({}, TITLEFONT, {size:18})),
  ann('<b>Day of Year</b>', 802, 476, TITLEFONT),
  ann('<b>Day of Year</b>', 802, 989, TITLEFONT),
  ann('<b>Ratio of complete to possible observations (%)</b>', 51, 266, YTITLE, {textangle:-90}),
  ann('<b>Ratio of complete to possible observations (%)</b>', 51, 780, YTITLE, {textangle:-90}),
  ann('Site Log :', 836, 497, LEGFONT, {xanchor:'left'}),
  ann('receiver change', 866, 526, LEGFONT, {xanchor:'left'}),
  ann('antenna change', 866, 561, LEGFONT, {xanchor:'left'}),
  ann('receiver &amp; antenna change', 866, 596, LEGFONT, {xanchor:'left'}),
  ann('equip. unable to track sat. sys.', 866, 634, LEGFONT, {xanchor:'left'}),
  ann('cut off', 866, 671, LEGFONT, {xanchor:'left'}),
  ann('Computed :', 1202, 497, LEGFONT, {xanchor:'left'}),
  ann('ratio with 0° cut off', 1243, 526, LEGFONT, {xanchor:'left'}),
  ann('ratio with 15° cut off', 1243, 561, LEGFONT, {xanchor:'left'}),
  ann('cut off', 1243, 596, LEGFONT, {xanchor:'left'})
];

function rect(x0, y0, x1, y1, fill, line) {
  return {type:'rect', xref:'paper', yref:'paper', x0:PX(x0), x1:PX(x1), y0:PY(y0), y1:PY(y1),
    fillcolor:fill, line:line || {width:0}, layer:'above'};
}
function vline(x, y0, y1, color) {
  return {type:'line', xref:'paper', yref:'paper', x0:PX(x), x1:PX(x), y0:PY(y0), y1:PY(y1), line:{color:color, width:1.5}, layer:'above'};
}
function dot(cx, cy, color) {
  return {type:'circle', xref:'paper', yref:'paper', x0:PX(cx-3), x1:PX(cx+3), y0:PY(cy+3), y1:PY(cy-3),
    fillcolor:color, line:{width:0}, layer:'above'};
}
const shapes = [
  rect(575, 1037, 1527, 1043, '#eef3df'),
  rect(835, 482, 1470, 688, '#ffffff', {color:'#333', width:1.5}),
  vline(858, 512, 540, '#3333ff'),
  vline(858, 547, 575, '#ff3333'),
  vline(858, 582, 610, '#ff33ff'),
  rect(847, 617, 859, 645, '#c8c8c8'),
  {type:'line', xref:'paper', yref:'paper', x0:PX(847), x1:PX(858), y0:PY(674), y1:PY(674), line:{color:'#111', width:1.6}, layer:'above'},
  dot(1221, 526, '#ff0000'),
  dot(1221, 561, '#bc8c8c'),
  dot(1221, 596, '#006400')
];

const layout = {
  width:W, height:H, margin:{l:0, r:0, t:0, b:0, pad:0}, paper_bgcolor:'#ffffff', plot_bgcolor:'#f8fbe7',
  showlegend:false, hovermode:false,
  xaxis:xAxis('y'), xaxis2:xAxis('y2'),
  yaxis:yLeft(topDom, 'x'), yaxis2:yLeft(botDom, 'x2'),
  yaxis3:yRight('y', 'x'), yaxis4:yRight('y2', 'x2'),
  annotations:annotations, shapes:shapes
};

Plotly.newPlot('chart', data, layout, {staticPlot:true, displayModeBar:false});
</script>
</body></html>
